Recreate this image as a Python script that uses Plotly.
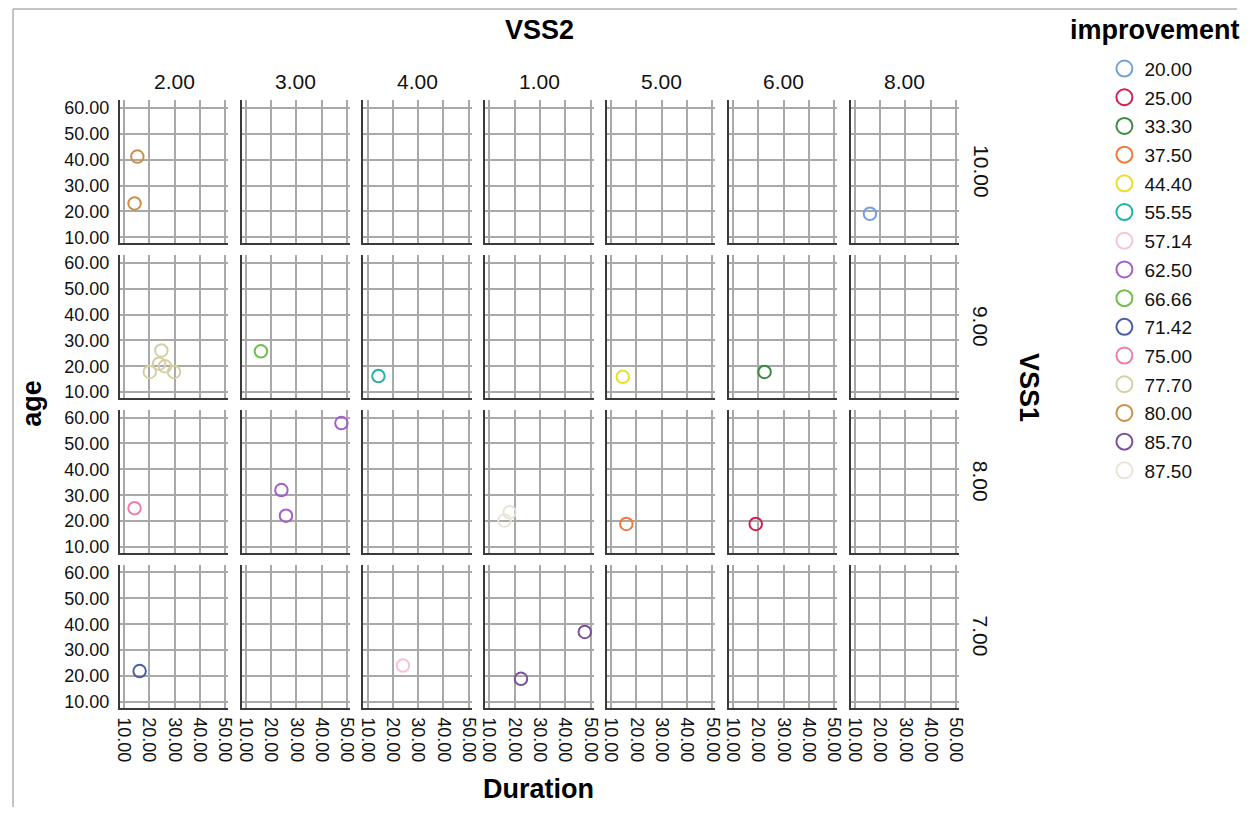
import plotly.graph_objects as go

# ---- data ----
vss1_levels = ["10.00", "9.00", "8.00", "7.00"]              # facet rows
vss2_levels = ["2.00", "3.00", "4.00", "1.00", "5.00", "6.00", "8.00"]  # facet cols
improvement_levels = ["20.00", "25.00", "33.30", "37.50", "44.40", "55.55", "57.14",
                      "62.50", "66.66", "71.42", "75.00", "77.70", "80.00", "85.70", "87.50"]
improvement_colors = ["#74a1dc", "#d2204c", "#3b8a3d", "#f07a3c", "#e6e02a", "#25b1a6", "#f6c3d4",
                      "#a45ecd", "#70bd4b", "#4a5fa0", "#ef7ca9", "#d4d0a3", "#c9904a", "#7c4f9e", "#e8e5d8"]

point_vss1 = ["10.00", "10.00", "10.00",
              "9.00", "9.00", "9.00", "9.00", "9.00", "9.00", "9.00", "9.00", "9.00",
              "8.00", "8.00", "8.00", "8.00", "8.00", "8.00", "8.00", "8.00",
              "7.00", "7.00", "7.00", "7.00"]
point_vss2 = ["2.00", "2.00", "8.00",
              "2.00", "2.00", "2.00", "2.00", "2.00", "3.00", "4.00", "5.00", "6.00",
              "2.00", "3.00", "3.00", "3.00", "1.00", "1.00", "5.00", "6.00",
              "2.00", "4.00", "1.00", "1.00"]
duration = [15.3, 14.2, 16.0,
            24.8, 23.9, 26.2, 20.2, 29.8, 16.0, 14.3, 14.6, 22.5,
            14.2, 47.8, 24.1, 25.9, 16.0, 18.0, 16.0, 19.0,
            16.2, 24.0, 22.5, 47.7]
age = [41.2, 23.1, 19.1,
       26.1, 21.0, 20.0, 17.8, 17.8, 25.8, 16.2, 15.9, 17.8,
       25.0, 57.9, 32.0, 22.1, 20.2, 23.4, 18.9, 18.9,
       21.9, 24.0, 18.9, 37.0]
improvement = ["80.00", "80.00", "20.00",
               "77.70", "77.70", "77.70", "77.70", "77.70", "66.66", "55.55", "44.40", "33.30",
               "75.00", "62.50", "62.50", "62.50", "87.50", "87.50", "37.50", "25.00",
               "71.42", "57.14", "85.70", "85.70"]

x_ticks = [10, 20, 30, 40, 50]
y_ticks = [10, 20, 30, 40, 50, 60]

# ---- layout geometry (page pixels; the page body has an 8px margin) ----
PAGE_W, PAGE_H, OFF = 1252, 819, 8
FW, FH = PAGE_W - 2 * OFF, PAGE_H - 2 * OFF


def px(x):
    return (x - OFF) / FW


def py(y):
    return 1 - (y - OFF) / FH


col_left0, col_step, col_w = 115, 123.1, 109.5
row_top0, row_step, row_h = 99, 156, 144
FONT = "Liberation Sans, Arial, sans-serif"

fig = go.Figure()
layout = {}
nrows, ncols = len(vss1_levels), len(vss2_levels)
for r in range(nrows):
    for c in range(ncols):
        k = r * ncols + c + 1
        sfx = "" if k == 1 else str(k)
        left = col_left0 + col_step * c
        top = row_top0 + row_step * r
        layout["xaxis" + sfx] = dict(
            domain=[px(left), px(left + col_w)], anchor="y" + sfx, range=[8.4, 51.2],
            tickvals=x_ticks, tickformat=".2f", showticklabels=(r == nrows - 1),
            tickangle=90, showgrid=True, gridcolor="#a9a9a9", gridwidth=1.5,
            showline=True, linecolor="#3a3a3a", linewidth=2, zeroline=False,
            ticks="", ticklabelstandoff=4,
            tickfont=dict(family=FONT, size=18, color="#111111"), fixedrange=True)
        layout["yaxis" + sfx] = dict(
            domain=[py(top + row_h), py(top)], anchor="x" + sfx, range=[7.7, 62.95],
            tickvals=y_ticks, tickformat=".2f", showticklabels=(c == 0),
            showgrid=True, gridcolor="#a9a9a9", gridwidth=1.5,
            showline=True, linecolor="#3a3a3a", linewidth=2, zeroline=False,
            ticks="", ticklabelstandoff=5,
            tickfont=dict(family=FONT, size=18, color="#111111"), fixedrange=True)
        # empty trace so that every facet panel is drawn
        fig.add_trace(go.Scatter(x=[], y=[], xaxis="x" + sfx, yaxis="y" + sfx,
                                 mode="markers", showlegend=False, hoverinfo="skip"))

# data traces: one per (improvement level, facet) combination
for li, lvl in enumerate(improvement_levels):
    color = improvement_colors[li]
    # legend entry
    fig.add_trace(go.Scatter(
        x=[None], y=[None], mode="markers", name=lvl, legendgroup=lvl, showlegend=True,
        marker=dict(symbol="circle-open", size=16, color=color, line=dict(width=2, color=color))))
    for r, v1 in enumerate(vss1_levels):
        for c, v2 in enumerate(vss2_levels):
            idx = [i for i in range(len(duration))
                   if improvement[i] == lvl and point_vss1[i] == v1 and point_vss2[i] == v2]
            if not idx:
                continue
            k = r * ncols + c + 1
            sfx = "" if k == 1 else str(k)
            fig.add_trace(go.Scatter(
                x=[duration[i] for i in idx], y=[age[i] for i in idx],
                xaxis="x" + sfx, yaxis="y" + sfx, mode="markers",
                name=lvl, legendgroup=lvl, showlegend=False,
                marker=dict(symbol="circle-open", size=12.5, color=color,
                            line=dict(width=2, color=color))))

annotations = []
for c, v2 in enumerate(vss2_levels):
    annotations.append(dict(
        x=px(col_left0 + col_step * c + col_w / 2), y=py(80), xref="paper", yref="paper",
        text=v2, showarrow=False, xanchor="center", yanchor="middle",
        font=dict(family=FONT, size=21, color="#111111")))
for r, v1 in enumerate(vss1_levels):
    annotations.append(dict(
        x=px(985), y=py(row_top0 + row_step * r + row_h / 2), xref="paper", yref="paper",
        text=v1, showarrow=False, textangle=90, xanchor="center", yanchor="middle",
        font=dict(family=FONT, size=21, color="#111111")))
titles = [("VSS2", 539, 28, 0, "middle"), ("VSS1", 1034, 388, 90, "middle"),
          ("age", 26, 404, -90, "middle"), ("Duration", 538, 810, 0, "bottom"),
          ("improvement", 1161, 28, 0, "middle")]
for txt, tx, ty, ang, ya in titles:
    annotations.append(dict(
        x=px(tx), y=py(ty), xref="paper", yref="paper", text="<b>" + txt + "</b>",
        showarrow=False, textangle=ang, xanchor="center", yanchor=ya,
        font=dict(family=FONT, size=27, color="#000000")))

shapes = [
    dict(type="line", xref="paper", yref="paper", x0=px(7), x1=1, y0=py(7), y1=py(7),
         line=dict(color="#8a8a8a", width=1)),
    dict(type="line", xref="paper", yref="paper", x0=px(7), x1=px(7), y0=0, y1=py(7),
         line=dict(color="#8a8a8a", width=1)),
]

fig.update_layout(
    **layout,
    width=FW, height=FH, margin=dict(l=0, r=0, t=0, b=0),
    paper_bgcolor="white", plot_bgcolor="white",
    annotations=annotations, shapes=shapes,
    showlegend=True,
    legend=dict(x=px(1110), y=py(48), xanchor="left", yanchor="top",
                font=dict(family=FONT, size=19, color="#111111"),
                tracegroupgap=1, bgcolor="rgba(0,0,0,0)", itemclick=False, itemdoubleclick=False),
    font=dict(family=FONT),
)

fig.write_html("out.html")
